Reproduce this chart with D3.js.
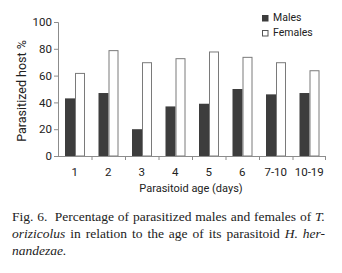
<!DOCTYPE html>
<html>
<head>
<meta charset="utf-8">
<script src="https://cdn.jsdelivr.net/npm/d3@7"></script>
<style>
  body { margin: 0; background: #fff; }
  svg { display: block; }
</style>
</head>
<body>
<div id="chart"></div>
<script>
// data
var ages = ["1", "2", "3", "4", "5", "6", "7-10", "10-19"];
var males = [43, 47, 20, 37, 39, 50, 46, 47];
var females = [62, 79, 70, 73, 78, 74, 70, 64];
var seriesNames = ["Males", "Females"];
var yTicks = [0, 20, 40, 60, 80, 100];

var width = 342, height = 273;
var margin = {top: 22, left: 58, right: 16, bottom: 117};

var svg = d3.select("#chart").append("svg")
  .attr("width", width)
  .attr("height", height);

var x0 = d3.scaleBand()
  .domain(ages)
  .range([margin.left, width - margin.right]);

var x1 = d3.scaleBand()
  .domain(seriesNames)
  .range([7, 27]);

var y = d3.scaleLinear()
  .domain([0, 100])
  .range([height - margin.bottom, margin.top]);

var sans = "Roboto, 'Open Sans', sans-serif";
var axisColor = "#8c8c8c";

// bars
var rows = ages.map(function(a, i) { return {age: a, Males: males[i], Females: females[i]}; });

var groups = svg.selectAll("g.grp")
  .data(rows)
  .enter().append("g")
  .attr("class", "grp")
  .attr("transform", function(d) { return "translate(" + x0(d.age) + ",0)"; });

groups.selectAll("rect")
  .data(function(d) { return seriesNames.map(function(k) { return {key: k, value: d[k]}; }); })
  .enter().append("rect")
  .attr("x", function(d) { return x1(d.key) + (d.key == "Females" ? 0.5 : 0); })
  .attr("y", function(d) { return y(d.value) + (d.key == "Females" ? 0.5 : 0); })
  .attr("width", function(d) { return x1.bandwidth() - (d.key == "Females" ? 1 : 0); })
  .attr("height", function(d) { return y(0) - y(d.value) - (d.key == "Females" ? 0.5 : 0); })
  .attr("fill", function(d) { return d.key == "Males" ? "#3d3d3d" : "#fff"; })
  .attr("stroke", function(d) { return d.key == "Males" ? "none" : "#7a7a7a"; })
  .attr("stroke-width", 1);

// y axis
var yAxis = svg.append("g")
  .attr("transform", "translate(" + margin.left + ",0)")
  .call(d3.axisLeft(y).tickValues(yTicks).tickSize(4).tickPadding(2));
yAxis.select(".domain").attr("stroke", axisColor);
yAxis.selectAll(".tick line").attr("stroke", axisColor);
yAxis.selectAll("text")
  .attr("fill", "#222")
  .style("font-family", sans)
  .style("font-size", "11.5px");

// x axis: ticks between groups
var xAxisG = svg.append("g");
xAxisG.append("line")
  .attr("x1", margin.left).attr("x2", width - margin.right)
  .attr("y1", y(0) + 0.5).attr("y2", y(0) + 0.5)
  .attr("stroke", axisColor);
xAxisG.selectAll("line.tk")
  .data(ages.slice(1).concat(["end"]))
  .enter().append("line")
  .attr("class", "tk")
  .attr("x1", function(d) { return d == "end" ? width - margin.right - 0.5 : x0(d) + 0.5; })
  .attr("x2", function(d) { return d == "end" ? width - margin.right - 0.5 : x0(d) + 0.5; })
  .attr("y1", y(0)).attr("y2", y(0) + 4)
  .attr("stroke", axisColor);
xAxisG.selectAll("text")
  .data(ages)
  .enter().append("text")
  .attr("x", function(d) { return x0(d) + x0.bandwidth() / 2; })
  .attr("y", y(0) + 20)
  .attr("text-anchor", "middle")
  .attr("fill", "#222")
  .style("font-family", sans)
  .style("font-size", "11.5px")
  .text(function(d) { return d; });

// axis titles
svg.append("text")
  .attr("x", 191)
  .attr("y", 192)
  .attr("text-anchor", "middle")
  .attr("fill", "#222")
  .style("font-family", sans)
  .style("font-size", "11px")
  .text("Parasitoid age (days)");

svg.append("text")
  .attr("transform", "translate(26,91) rotate(-90)")
  .attr("text-anchor", "middle")
  .attr("fill", "#222")
  .style("font-family", sans)
  .style("font-size", "12.5px")
  .text("Parasitized host %");

// legend
var legend = svg.selectAll("g.leg")
  .data(seriesNames)
  .enter().append("g")
  .attr("class", "leg")
  .attr("transform", function(d, i) { return "translate(262," + (15 + i * 15) + ")"; });
legend.append("rect")
  .attr("x", 0.5).attr("y", 0.5)
  .attr("width", 5.5).attr("height", 5.5)
  .attr("fill", function(d) { return d == "Males" ? "#3d3d3d" : "#fff"; })
  .attr("stroke", function(d) { return d == "Males" ? "#3d3d3d" : "#555"; });
legend.append("text")
  .attr("x", 11)
  .attr("y", 6)
  .attr("fill", "#222")
  .style("font-family", sans)
  .style("font-size", "10.5px")
  .text(function(d) { return d; });

// caption, justified word by word
var captionLines = [
  {y: 221, justify: true, words: [["Fig.", 0], ["6.\u00a0", 0], ["Percentage", 0], ["of", 0], ["parasitized", 0], ["males", 0], ["and", 0], ["females", 0], ["of", 0], ["T.", 1]]},
  {y: 238, justify: true, words: [["orizicolus", 1], ["in", 0], ["relation", 0], ["to", 0], ["the", 0], ["age", 0], ["of", 0], ["its", 0], ["parasitoid", 0], ["H.", 1], ["her-", 1]]},
  {y: 255, justify: false, words: [["nandezae.", 1]]}
];
var capLeft = 12, capRight = 325;
var serif = "'Liberation Serif', 'DejaVu Serif', serif";

captionLines.forEach(function(line) {
  var g = svg.append("g");
  var nodes = line.words.map(function(w) {
    return g.append("text")
      .attr("y", line.y)
      .attr("fill", "#222")
      .style("font-family", serif)
      .style("font-size", "13.5px")
      .style("font-style", w[1] ? "italic" : "normal")
      .text(w[0]);
  });
  var widths = nodes.map(function(n) { return n.node().getComputedTextLength(); });
  var total = d3.sum(widths);
  var gap = line.justify ? (capRight - capLeft - total) / (nodes.length - 1) : 4;
  var xPos = capLeft;
  nodes.forEach(function(n, i) {
    n.attr("x", xPos);
    xPos += widths[i] + gap;
  });
});
</script>
</body>
</html>
